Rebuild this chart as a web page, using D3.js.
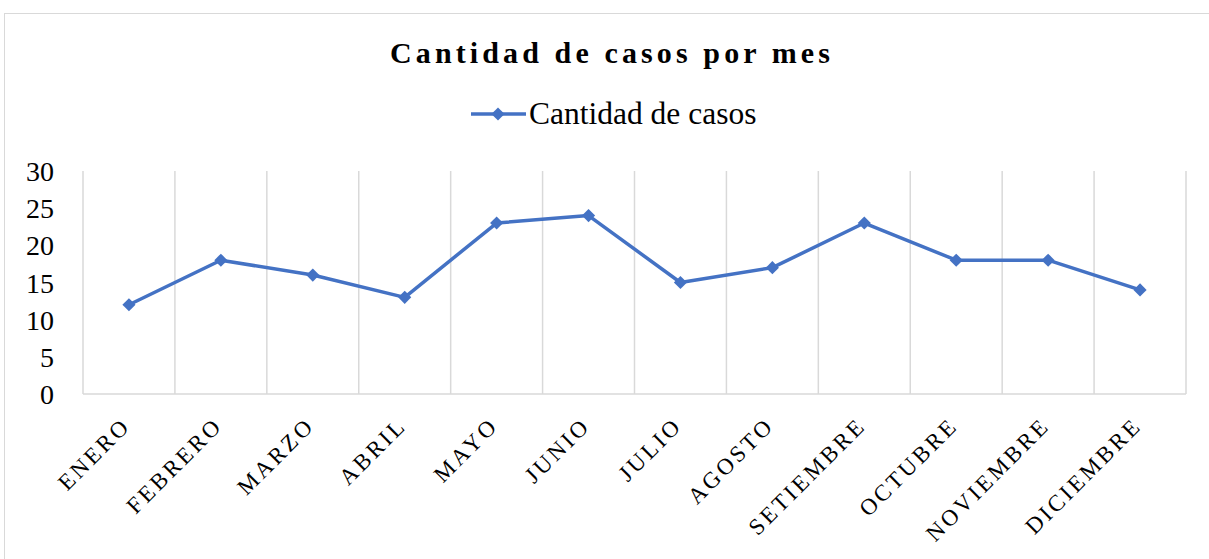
<!DOCTYPE html>
<html>
<head>
<meta charset="utf-8">
<script src="https://cdn.jsdelivr.net/npm/d3@7"></script>
<style>
  body { margin: 0; background: #fff; }
  text { font-family: "Liberation Serif", "Times New Roman", serif; }
</style>
</head>
<body>
<script>
// data
var meses = ["ENERO", "FEBRERO", "MARZO", "ABRIL", "MAYO", "JUNIO", "JULIO",
             "AGOSTO", "SETIEMBRE", "OCTUBRE", "NOVIEMBRE", "DICIEMBRE"];
var casos = [12, 18, 16, 13, 23, 24, 15, 17, 23, 18, 18, 14];
var yTicks = [0, 5, 10, 15, 20, 25, 30];

var width = 1209, height = 559;
var pLeft = 83, pRight = 1186, pTop = 171, pBottom = 394;
var azul = "#4472C4";

var svg = d3.select("body").append("svg")
    .attr("width", width)
    .attr("height", height);

// outer chart border
svg.append("rect")
    .attr("x", 4.5).attr("y", 13.5)
    .attr("width", 1220).attr("height", 600)
    .attr("fill", "none")
    .attr("stroke", "#d9d9d9");

var x = d3.scaleBand().domain(meses).range([pLeft, pRight]);
var y = d3.scaleLinear().domain([0, 30]).range([pBottom, pTop]);

// vertical gridlines at category borders
var bordes = meses.map(function(m){ return x(m); }).concat([pRight]);
svg.append("g").selectAll("line")
    .data(bordes)
    .join("line")
    .attr("x1", function(d){ return d; })
    .attr("x2", function(d){ return d; })
    .attr("y1", pTop).attr("y2", pBottom)
    .attr("stroke", "#d9d9d9")
    .attr("stroke-width", 1.5);

// bottom axis line
svg.append("line")
    .attr("x1", pLeft).attr("x2", pRight)
    .attr("y1", pBottom).attr("y2", pBottom)
    .attr("stroke", "#d9d9d9")
    .attr("stroke-width", 1.5);

// y tick labels
var yAxis = d3.axisLeft(y).tickValues(yTicks).tickSize(0).tickPadding(0);
var gy = svg.append("g").attr("transform", "translate(" + (pLeft - 29) + ",0)").call(yAxis);
gy.select(".domain").remove();
gy.selectAll("text")
    .attr("font-family", "Liberation Serif, serif")
    .attr("font-size", 28)
    .attr("dy", "0.34em")
    .attr("fill", "#000");

// x labels, rotated
var xAxis = d3.axisBottom(x).tickSize(0).tickPadding(0);
var gx = svg.append("g").attr("transform", "translate(0," + pBottom + ")").call(xAxis);
gx.select(".domain").remove();
gx.selectAll("text")
    .attr("font-family", "Liberation Serif, serif")
    .attr("font-size", 23)
    .attr("letter-spacing", "3px")
    .attr("fill", "#000")
    .attr("text-anchor", "end")
    .attr("dy", 0)
    .attr("y", 0)
    .attr("transform", "translate(3,33) rotate(-45)");

// line
var linea = d3.line()
    .x(function(d, i){ return x(meses[i]) + x.bandwidth() / 2; })
    .y(function(d){ return y(d); });

svg.append("path")
    .datum(casos)
    .attr("d", linea)
    .attr("fill", "none")
    .attr("stroke", azul)
    .attr("stroke-width", 3.5)
    .attr("stroke-linejoin", "round");

var diamante = d3.symbol().type(d3.symbolDiamond2).size(110);
svg.append("g").selectAll("path")
    .data(casos)
    .join("path")
    .attr("d", diamante)
    .attr("transform", function(d, i){
        return "translate(" + (x(meses[i]) + x.bandwidth() / 2) + "," + y(d) + ")";
    })
    .attr("fill", azul);

// title, spaced out to the reference width
var titulo = svg.append("text")
    .attr("x", 610).attr("y", 63)
    .attr("text-anchor", "middle")
    .attr("font-size", 30)
    .attr("font-weight", "bold")
    .text("Cantidad de casos por mes");
var natural = titulo.node().getComputedTextLength();
var sp = (440 - natural) / 24;
titulo.attr("letter-spacing", sp + "px")
    .attr("x", 610 + sp / 2);

// legend
svg.append("line")
    .attr("x1", 471).attr("x2", 526)
    .attr("y1", 114).attr("y2", 114)
    .attr("stroke", azul)
    .attr("stroke-width", 3.5);
svg.append("path")
    .attr("d", diamante)
    .attr("transform", "translate(498,114)")
    .attr("fill", azul);
svg.append("text")
    .attr("x", 529).attr("y", 124)
    .attr("font-size", 31.5)
    .text("Cantidad de casos");
</script>
</body>
</html>
